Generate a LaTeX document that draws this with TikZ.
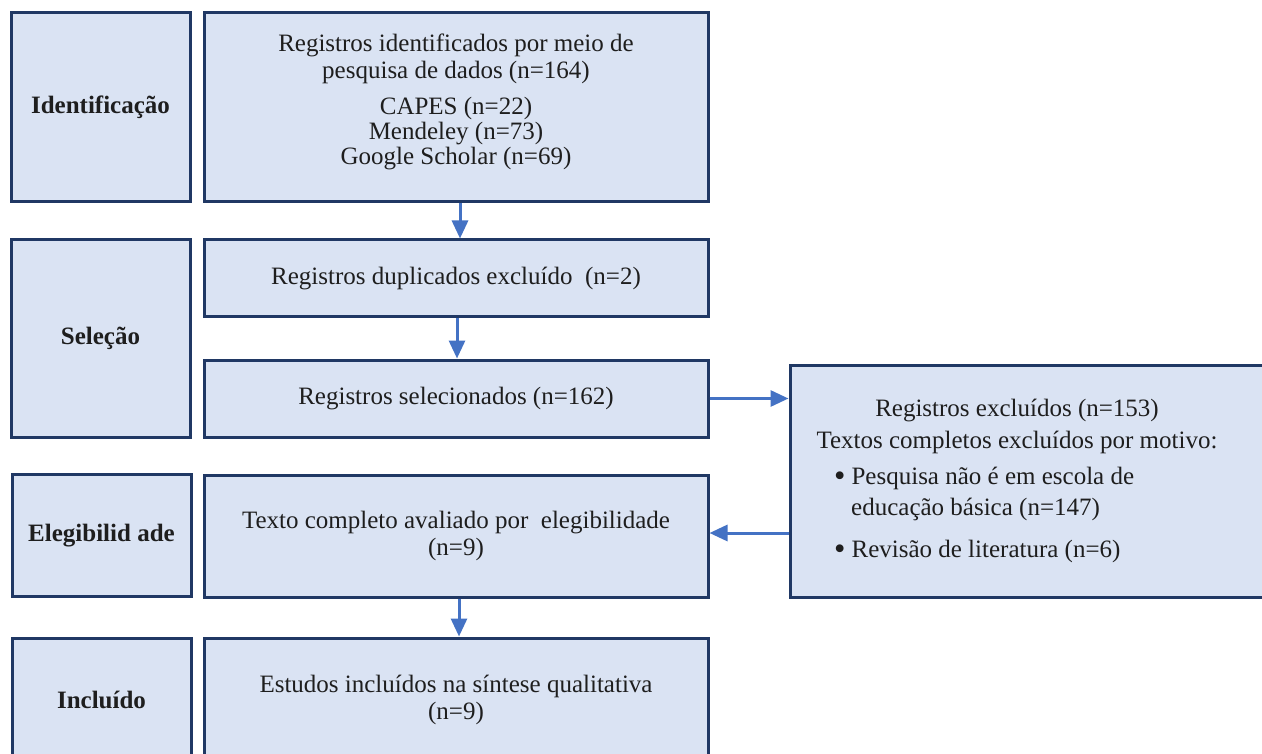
\documentclass[tikz,border=0pt]{standalone}
\usepackage{fontspec}
\setmainfont{Liberation Serif}
\usetikzlibrary{arrows.meta,calc}
\definecolor{boxfill}{HTML}{DAE3F3}
\definecolor{boxline}{HTML}{203864}
\definecolor{arrblue}{HTML}{4472C4}
\definecolor{txt}{HTML}{1E1E1E}
\newcommand{\bigbul}{\raisebox{-2pt}{\scalebox{1.3}{\textbullet}}}
\begin{document}
\begin{tikzpicture}[x=1pt,y=-1pt,
  stagebox/.style={draw=boxline, fill=boxfill, line width=3pt, inner sep=0pt,
    text=txt, align=center, font=\fontsize{25}{27}\selectfont},
  plaintxt/.style={text=txt, inner sep=0pt, font=\fontsize{25}{27}\selectfont},
  arr/.style={draw=arrblue, line width=3pt, -{Triangle[length=18pt,width=16pt]}}
]
\useasboundingbox (0,0) rectangle (1262,754);
\clip (0,0) rectangle (1262,754);
\fill[white] (0,0) rectangle (1262,754);

% left stage labels
\node[stagebox, minimum width=179pt, minimum height=189pt] (lab1) at (100.5,107.5) {\bfseries Identificação};
\node[stagebox, minimum width=179pt, minimum height=197pt] (lab2) at (100.5,338.5) {\bfseries Seleção};
\node[stagebox, minimum width=179pt, minimum height=122pt] (lab3) at (101.5,535.5) {\bfseries Elegibilid ade};
\node[stagebox, minimum width=179pt, minimum height=124pt] (lab4) at (101.5,700) {\bfseries Incluído};

% main boxes
\node[stagebox, minimum width=504pt, minimum height=189pt] (b1) at (456,107.5) {};
\node[plaintxt, align=center] (b1t) at (456,102) {Registros identificados por meio de\\pesquisa de dados (n=164)\\[9pt]CAPES (n=22)\\[-2pt]Mendeley (n=73)\\[-2pt]Google Scholar (n=69)};
\node[stagebox, minimum width=504pt, minimum height=77pt] (b2) at (456,278.5) {Registros duplicados excluído\ \ (n=2)};
\node[stagebox, minimum width=504pt, minimum height=77pt] (b3) at (456,398.5) {Registros selecionados (n=162)};
\node[stagebox, minimum width=504pt, minimum height=122pt] (b4) at (456,536) {Texto completo avaliado por\ \ elegibilidade\\(n=9)};
\node[stagebox, minimum width=504pt, minimum height=124pt] (b5) at (456,700) {Estudos incluídos na síntese qualitativa\\(n=9)};

% excluded box
\node[stagebox, minimum width=500pt, minimum height=232pt] (ex) at (1040,481) {};
\node[plaintxt, align=center, font=\fontsize{25}{32}\selectfont] (ext) at (1017,426) {Registros excluídos (n=153)\\Textos completos excluídos por motivo:};
\node[plaintxt, align=left, anchor=west, font=\fontsize{25}{31}\selectfont] (exl) at (834,515) {\bigbul\hspace{6pt}Pesquisa não é em escola de\\\hspace*{17pt}educação básica (n=147)\\[11pt]\bigbul\hspace{6pt}Revisão de literatura (n=6)};

% arrows
\draw[arr] ([xshift=4pt]b1.south) -- ([xshift=4pt]b2.north);
\draw[arr] ([xshift=1pt]b2.south) -- ([xshift=1pt]b3.north);
\draw[arr] ([xshift=3pt]b4.south) -- ([xshift=3pt]b5.north);
\draw[arr] (b3.east) -- (b3.east -| ex.west);
\draw[arr] ([yshift=3pt]ex.west |- b4.east) -- ([yshift=3pt]b4.east);
\end{tikzpicture}
\end{document}
